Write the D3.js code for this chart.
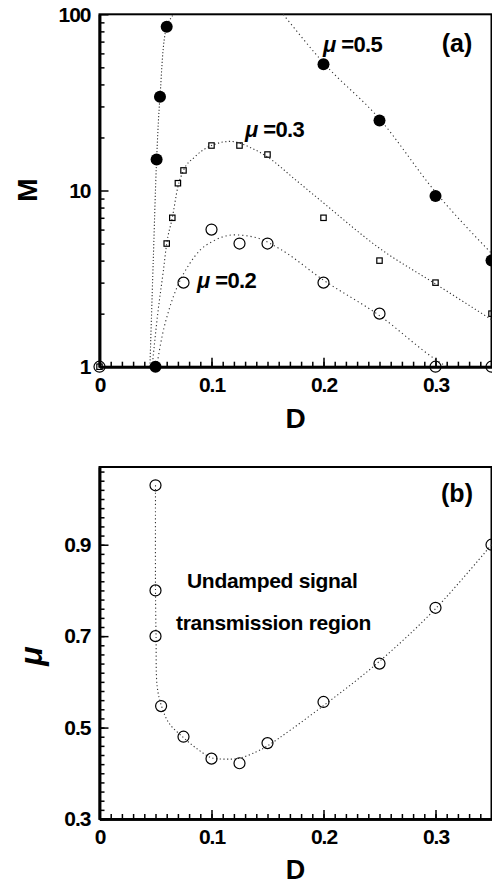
<!DOCTYPE html>
<html>
<head>
<meta charset="utf-8">
<script src="https://cdn.jsdelivr.net/npm/d3@7"></script>
<style>
  body { margin: 0; background: #fff; }
  text { font-family: "Liberation Sans", Arial, sans-serif; font-weight: bold; fill: #000; }
</style>
</head>
<body>
<div id="chart"></div>
<script>
const width = 492;
const height = 886;

// panel (a): measured points
const d05 = [0.05, 0.051, 0.054, 0.06, 0.2, 0.25, 0.3, 0.35];
const m05 = [1, 15, 34, 85, 52, 25, 9.3, 4];
const d03 = [0, 0.06, 0.065, 0.07, 0.075, 0.1, 0.125, 0.15, 0.2, 0.25, 0.3, 0.35];
const m03 = [1, 5, 7, 11, 13, 18, 18, 16, 7, 4, 3, 2];
const d02 = [0, 0.075, 0.1, 0.125, 0.15, 0.2, 0.25, 0.3, 0.35];
const m02 = [1, 3, 6, 5, 5, 3, 2, 1, 1];

// panel (a): fitted dotted curves
const fit05aD = [0.045, 0.048, 0.051, 0.054, 0.06, 0.066];
const fit05aM = [1, 4, 15, 34, 85, 100];
const fit05bD = [0.164, 0.2, 0.25, 0.3, 0.35];
const fit05bM = [100, 53, 25.5, 9.8, 4.4];
const fit03D = [0.047, 0.052, 0.057, 0.06, 0.065, 0.07, 0.075, 0.085, 0.1, 0.117, 0.135, 0.15, 0.175, 0.2, 0.25, 0.3, 0.35];
const fit03M = [1, 2, 3.5, 5, 7, 10.5, 13, 15.5, 18, 19, 17.5, 15.5, 11.5, 8.5, 4.7, 2.95, 1.85];
const fit02D = [0.051, 0.056, 0.062, 0.07, 0.08, 0.09, 0.1, 0.12, 0.14, 0.16, 0.2, 0.25, 0.3, 0.31];
const fit02M = [1, 1.5, 2.1, 2.9, 3.8, 4.6, 5.1, 5.6, 5.4, 4.7, 3.1, 1.95, 1.1, 1.0];

// panel (b): measured points and fitted curve
const dB = [0.05, 0.05, 0.05, 0.055, 0.075, 0.1, 0.125, 0.15, 0.2, 0.25, 0.3, 0.35];
const muB = [1.03, 0.8, 0.7, 0.547, 0.48, 0.432, 0.422, 0.466, 0.556, 0.64, 0.762, 0.9];
const fitBD = [0.05, 0.05, 0.0505, 0.0515, 0.055, 0.062, 0.075, 0.088, 0.1, 0.113, 0.125, 0.14, 0.15, 0.2, 0.25, 0.3, 0.35];
const fitBMu = [1.03, 0.8, 0.7, 0.59, 0.55, 0.51, 0.478, 0.452, 0.434, 0.431, 0.433, 0.447, 0.46, 0.548, 0.645, 0.76, 0.9];

// ticks
const xTicks = [0, 0.1, 0.2, 0.3];
const xTickLabels = ["0", "0.1", "0.2", "0.3"];
const yTicksA = [1, 10, 100];
const yTickLabelsA = ["1", "10", "100"];
const yMinorA = [2, 3, 4, 5, 6, 7, 8, 9, 20, 30, 40, 50, 60, 70, 80, 90];
const yTicksB = [0.3, 0.5, 0.7, 0.9];
const yTickLabelsB = ["0.3", "0.5", "0.7", "0.9"];

const svg = d3.select("#chart")
  .append("svg")
  .attr("width", width)
  .attr("height", height);

const x = d3.scaleLinear().domain([0, 0.35]).range([99.5, 491.5]);
const yA = d3.scaleLog().domain([1, 100]).range([366.7, 14.3]);
const yB = d3.scaleLinear().domain([0.3, 1.07]).range([819, 467]);

function frame(y) {
  const r = y.range();
  svg.append("rect")
    .attr("x", x.range()[0]).attr("y", r[1])
    .attr("width", x.range()[1] - x.range()[0])
    .attr("height", r[0] - r[1])
    .attr("fill", "none").attr("stroke", "#000").attr("stroke-width", 2);
}

function axes(y, yMajor, yLabels, yMinor) {
  const y0 = y.range()[0];
  const x0 = x.range()[0];

  const gxMinor = svg.append("g").attr("transform", `translate(0,${y0})`)
    .call(d3.axisBottom(x).tickValues(x.ticks(35)).tickSize(-5).tickSizeOuter(0).tickFormat(""));
  const gx = svg.append("g").attr("transform", `translate(0,${y0})`)
    .call(d3.axisBottom(x).tickValues(xTicks).tickSize(-9).tickSizeOuter(0).tickPadding(10)
      .tickFormat((d, i) => xTickLabels[i]));

  const gyMinor = svg.append("g").attr("transform", `translate(${x0},0)`)
    .call(d3.axisLeft(y).tickValues(yMinor).tickSize(-5).tickSizeOuter(0).tickFormat(""));
  const gy = svg.append("g").attr("transform", `translate(${x0},0)`)
    .call(d3.axisLeft(y).tickValues(yMajor).tickSize(-9).tickSizeOuter(0).tickPadding(9)
      .tickFormat((d, i) => yLabels[i]));

  [gxMinor, gx, gyMinor, gy].forEach(g => {
    g.select(".domain").attr("stroke-width", 2.5);
    g.selectAll(".tick line").attr("stroke-width", 1.5);
    g.selectAll("text").style("font-size", "21px").style("letter-spacing", "-1px");
  });
}

function fitLine(ds, vs, y, dash, curve) {
  const pts = ds.map((d, i) => [x(d), y(vs[i])]);
  svg.append("path")
    .attr("d", d3.line().curve(curve)(pts))
    .attr("fill", "none")
    .attr("stroke", "#333")
    .attr("stroke-width", 1.1)
    .attr("stroke-dasharray", dash);
}

const smooth = d3.curveCatmullRom.alpha(0.5);

// ---- panel (a)
frame(yA);
fitLine(fit05aD, fit05aM, yA, "1.2,2", smooth);
fitLine(fit05bD, fit05bM, yA, "1.2,3", d3.curveMonotoneX);
fitLine(fit03D, fit03M, yA, "1.2,2.5", d3.curveMonotoneX);
fitLine(fit02D, fit02M, yA, "1.2,3", d3.curveMonotoneX);
axes(yA, yTicksA, yTickLabelsA, yMinorA);

svg.append("g").selectAll("circle")
  .data(d02.map((d, i) => [d, m02[i]]))
  .join("circle")
  .attr("cx", d => x(d[0])).attr("cy", d => yA(d[1]))
  .attr("r", 5.5).attr("fill", "none").attr("stroke", "#000").attr("stroke-width", 1.2);

svg.append("g").selectAll("rect")
  .data(d03.map((d, i) => [d, m03[i]]))
  .join("rect")
  .attr("x", d => x(d[0]) - 2.7).attr("y", d => yA(d[1]) - 2.7)
  .attr("width", 5.4).attr("height", 5.4)
  .attr("fill", "none").attr("stroke", "#000").attr("stroke-width", 1.2);

svg.append("g").selectAll("circle")
  .data(d05.map((d, i) => [d, m05[i]]))
  .join("circle")
  .attr("cx", d => x(d[0])).attr("cy", d => yA(d[1]))
  .attr("r", 6).attr("fill", "#000");

function muLabel(px, py, val) {
  const t = svg.append("text").attr("x", px).attr("y", py).style("font-size", "22px")
    .style("letter-spacing", "-0.6px");
  t.append("tspan").style("font-style", "italic").text("μ");
  t.append("tspan").text(" =" + val);
}
muLabel(323, 52, "0.5");
muLabel(245, 137, "0.3");
muLabel(197, 288, "0.2");

svg.append("text").attr("x", 457).attr("y", 52).attr("text-anchor", "middle")
  .style("font-size", "25px").text("(a)");
svg.append("text").attr("x", 295.5).attr("y", 428).attr("text-anchor", "middle")
  .style("font-size", "28px").text("D");
svg.append("text").attr("transform", "translate(37,190) rotate(-90)").attr("text-anchor", "middle")
  .style("font-size", "28px").text("M");

// ---- panel (b)
frame(yB);
fitLine(fitBD, fitBMu, yB, "1.2,2.5", smooth);
axes(yB, yTicksB, yTickLabelsB, yB.ticks(38).filter(v => v >= 0.3));

svg.append("g").selectAll("circle")
  .data(dB.map((d, i) => [d, muB[i]]))
  .join("circle")
  .attr("cx", d => x(d[0])).attr("cy", d => yB(d[1]))
  .attr("r", 5.5).attr("fill", "none").attr("stroke", "#000").attr("stroke-width", 1.2);

svg.append("text").attr("x", 457).attr("y", 502).attr("text-anchor", "middle")
  .style("font-size", "25px").text("(b)");
svg.append("text").attr("x", 187).attr("y", 588).style("font-size", "21px")
  .style("letter-spacing", "-0.3px").text("Undamped signal");
svg.append("text").attr("x", 176).attr("y", 630).style("font-size", "21px")
  .style("letter-spacing", "-0.3px").text("transmission region");
svg.append("text").attr("x", 295.5).attr("y", 879).attr("text-anchor", "middle")
  .style("font-size", "27px").text("D");
svg.append("text").attr("transform", "translate(42,656) rotate(-90)").attr("text-anchor", "middle")
  .style("font-size", "32px").style("font-style", "italic").text("μ");
</script>
</body>
</html>
